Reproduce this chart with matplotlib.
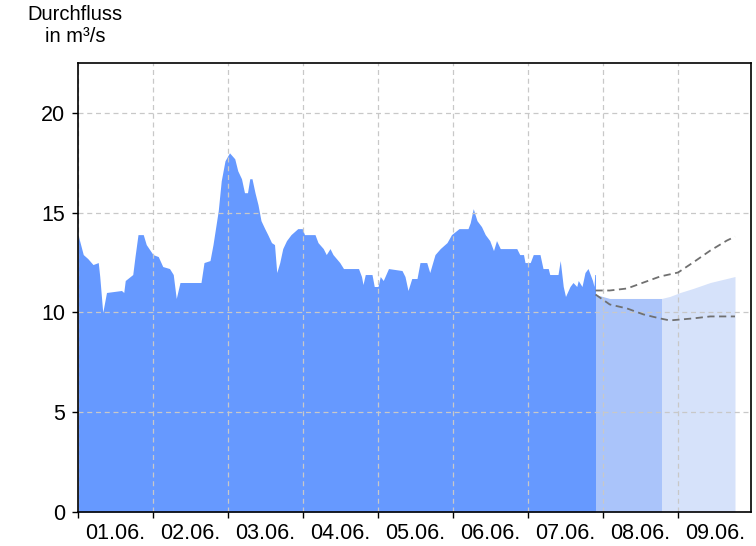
import matplotlib
matplotlib.use("Agg")
import matplotlib.pyplot as plt
import numpy as np

plt.rcParams['font.family'] = ['Liberation Sans', 'DejaVu Sans']

# measured discharge (days since 01.06. 00:00, m³/s)
measured_days = [0.00, 0.07, 0.13, 0.20, 0.27, 0.29, 0.33, 0.38, 0.58, 0.61, 0.63, 0.73, 0.76, 0.80,
                 0.87, 0.91, 1.00, 1.07, 1.13, 1.22, 1.27, 1.31, 1.36, 1.64, 1.68, 1.76, 1.80, 1.87,
                 1.91, 1.96, 2.02, 2.09, 2.13, 2.18, 2.22, 2.26, 2.29, 2.32, 2.36, 2.40, 2.44, 2.49,
                 2.53, 2.58, 2.62, 2.65, 2.69, 2.73, 2.78, 2.84, 2.93, 2.99, 3.02, 3.16, 3.20, 3.27,
                 3.31, 3.36, 3.40, 3.49, 3.54, 3.74, 3.78, 3.80, 3.83, 3.92, 3.95, 4.00, 4.03, 4.07,
                 4.14, 4.32, 4.36, 4.40, 4.45, 4.52, 4.56, 4.65, 4.69, 4.76, 4.83, 4.92, 4.98, 5.08,
                 5.20, 5.23, 5.27, 5.32, 5.38, 5.43, 5.49, 5.54, 5.58, 5.63, 5.85, 5.89, 5.94, 5.96,
                 6.03, 6.07, 6.16, 6.20, 6.27, 6.29, 6.40, 6.43, 6.47, 6.50, 6.56, 6.60, 6.65, 6.67,
                 6.72, 6.76, 6.80, 6.86, 6.88, 6.89, 6.90]
measured_values = [13.9, 12.9, 12.7, 12.4, 12.5, 11.8, 10.0, 11.0, 11.1, 11.0, 11.6, 11.9, 12.8, 13.9,
                   13.9, 13.4, 12.9, 12.8, 12.3, 12.2, 11.9, 10.7, 11.5, 11.5, 12.5, 12.6, 13.4, 15.1,
                   16.6, 17.6, 18.0, 17.7, 17.1, 16.7, 16.0, 16.0, 16.7, 16.7, 16.0, 15.4, 14.6, 14.2,
                   13.9, 13.5, 13.4, 12.0, 12.5, 13.2, 13.6, 13.9, 14.2, 14.2, 13.9, 13.9, 13.5, 13.2,
                   12.9, 13.2, 12.9, 12.5, 12.2, 12.2, 11.8, 11.4, 11.9, 11.9, 11.3, 11.3, 11.8, 11.6,
                   12.2, 12.1, 11.8, 11.1, 11.7, 11.7, 12.5, 12.5, 12.0, 12.9, 13.2, 13.5, 13.9, 14.2,
                   14.2, 14.5, 15.2, 14.6, 14.3, 13.9, 13.6, 13.1, 13.6, 13.2, 13.2, 12.9, 12.9, 12.5,
                   12.5, 12.9, 12.9, 12.2, 12.2, 11.9, 11.9, 12.6, 11.3, 10.8, 11.3, 11.5, 11.3, 11.6,
                   11.3, 12.0, 12.2, 11.6, 11.3, 11.9, 11.9]

# forecast
forecast_days = [6.90, 7.09, 7.32, 7.54, 7.78, 7.89, 8.03, 8.20, 8.43, 8.65, 8.76]
forecast_values = [10.9, 10.7, 10.7, 10.7, 10.7, 10.8, 11.0, 11.2, 11.5, 11.7, 11.8]
forecast_split = 7.78

upper_days = [6.90, 7.09, 7.32, 7.54, 7.76, 8.00, 8.20, 8.43, 8.65, 8.76]
upper_values = [11.1, 11.1, 11.2, 11.5, 11.8, 12.0, 12.5, 13.1, 13.6, 13.8]
lower_days = [6.90, 7.09, 7.32, 7.54, 7.76, 7.89, 8.20, 8.43, 8.76]
lower_values = [10.9, 10.4, 10.2, 9.9, 9.7, 9.6, 9.7, 9.8, 9.8]

day_labels = ["01.06.", "02.06.", "03.06.", "04.06.", "05.06.", "06.06.", "07.06.", "08.06.", "09.06."]
y_ticks = [0, 5, 10, 15, 20]

fig = plt.figure(figsize=(7.56, 5.46), dpi=100)
ax = fig.add_axes([78 / 756, 34 / 546, 673 / 756, 449 / 546])

ax.fill_between(measured_days, measured_values, 0, color='#6699ff', lw=0, zorder=2)

fd = np.array(forecast_days)
fv = np.array(forecast_values)
m1 = fd <= forecast_split
ax.fill_between(fd[m1], fv[m1], 0, color='#aac4fa', lw=0, zorder=2)
m2 = fd >= forecast_split
ax.fill_between(fd[m2], fv[m2], 0, color='#d6e2fa', lw=0, zorder=2)

ax.plot(upper_days, upper_values, color='#707070', lw=1.3, ls=(0, (4, 2.5)), zorder=4)
ax.plot(lower_days, lower_values, color='#707070', lw=1.3, ls=(0, (4, 2.5)), zorder=4)

ax.set_xlim(0, 673 / 75)
ax.set_ylim(0, 22.5)

ax.set_xticks(range(0, 9))
ax.set_xticklabels([])
ax.set_xticks([i + 0.5 for i in range(len(day_labels))], minor=True)
ax.set_xticklabels(day_labels, minor=True, fontsize=15.5)
ax.tick_params(axis='x', which='minor', length=0, pad=8)
ax.tick_params(axis='x', which='major', length=4, width=1)

ax.set_yticks(y_ticks)
ax.set_yticklabels([str(v) for v in y_ticks], fontsize=15.5)
ax.tick_params(axis='y', length=4, width=1, pad=5)

ax.grid(True, which='major', color='#c8c8c8', ls=(0, (4, 3)), lw=0.9, zorder=3)
ax.set_axisbelow(False)
for s in ax.spines.values():
    s.set_linewidth(1.2)
    s.set_zorder(5)

fig.text(75 / 756, 1 - 26 / 546, "Durchfluss\nin m³/s", ha='center', va='center', fontsize=14.5,
         linespacing=1.2)

fig.savefig("out.png", dpi=100)
